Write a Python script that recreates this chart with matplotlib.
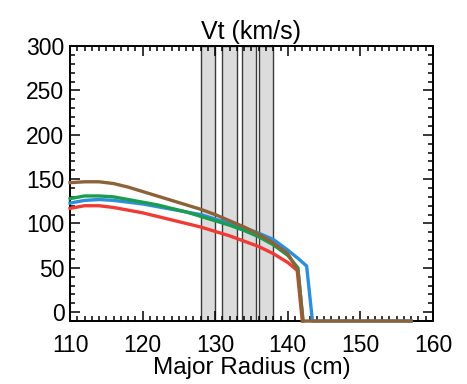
import numpy as np
import matplotlib.pyplot as plt
from matplotlib.ticker import MultipleLocator

plt.rcParams['font.family'] = ['Liberation Sans', 'DejaVu Sans']

# radius grid (cm) and profiles (km/s)
r = [110, 112, 114, 116, 118, 120, 122, 124, 126, 128, 130, 132, 134, 136, 138, 140]

vt_blue = [123, 126, 127, 126, 124, 122, 119, 116, 113, 110, 105, 100, 95, 89, 82, 70]
r_blue_tail = [141.5, 142.6, 143.4, 157]
vt_blue_tail = [60, 52, -10, -10]

vt_red = [117, 120, 120, 118, 115, 112, 108, 104, 100, 96, 91, 86, 80, 74, 66, 56]
r_red_tail = [141.3, 142.0]
vt_red_tail = [47, -10]

vt_green = [128, 131, 131, 130, 127, 124, 121, 117, 113, 108, 103, 98, 92, 85, 76, 64]
r_green_tail = [141.4, 142.1]
vt_green_tail = [50, -10]

vt_brown = [146, 147, 147, 145, 141, 136, 131, 126, 121, 116, 110, 103, 96, 88, 78, 66]
r_brown_tail = [141.4, 142.1, 157]
vt_brown_tail = [47, -10, -10]

# shaded channels
bands = [(128.0, 130.0), (131.0, 133.0), (133.7, 135.6), (136.0, 138.0)]

fig = plt.figure(figsize=(4.67, 3.84), dpi=100)
ax = fig.add_axes([0.150, 0.164, 0.777, 0.716])

for lo, hi in bands:
    ax.axvspan(lo, hi, facecolor='#dcdcdc', edgecolor='#3a3a3a', lw=1.0, zorder=1)

lw = 2.4
ax.plot(r + r_blue_tail, vt_blue + vt_blue_tail, color='#2b8fdb', lw=lw, zorder=3, clip_on=False)
ax.plot(r + r_red_tail, vt_red + vt_red_tail, color='#ef3b33', lw=lw, zorder=3, clip_on=False)
ax.plot(r + r_green_tail, vt_green + vt_green_tail, color='#1b9c4f', lw=lw, zorder=4, clip_on=False)
ax.plot(r + r_brown_tail, vt_brown + vt_brown_tail, color='#8c6239', lw=lw, zorder=5, clip_on=False)

ax.set_xlim(110, 160)
ax.set_ylim(-10, 300)
ax.set_xticks([110, 120, 130, 140, 150, 160])
ax.set_yticks([0, 50, 100, 150, 200, 250, 300])
ax.xaxis.set_minor_locator(MultipleLocator(1))
ax.yaxis.set_minor_locator(MultipleLocator(10))
ax.tick_params(which='both', direction='in', top=True, right=True, width=1.1, labelsize=16.5)
ax.tick_params(which='major', length=7)
ax.tick_params(which='minor', length=3.5)
ax.tick_params(axis='x', pad=9)
ax.tick_params(axis='y', pad=4)
for s in ax.spines.values():
    s.set_linewidth(1.4)

ax.set_title('Vt (km/s)', fontsize=18, pad=5)
ax.set_xlabel('Major Radius (cm)', fontsize=17.5, labelpad=0)

fig.savefig('out.png', dpi=100)
